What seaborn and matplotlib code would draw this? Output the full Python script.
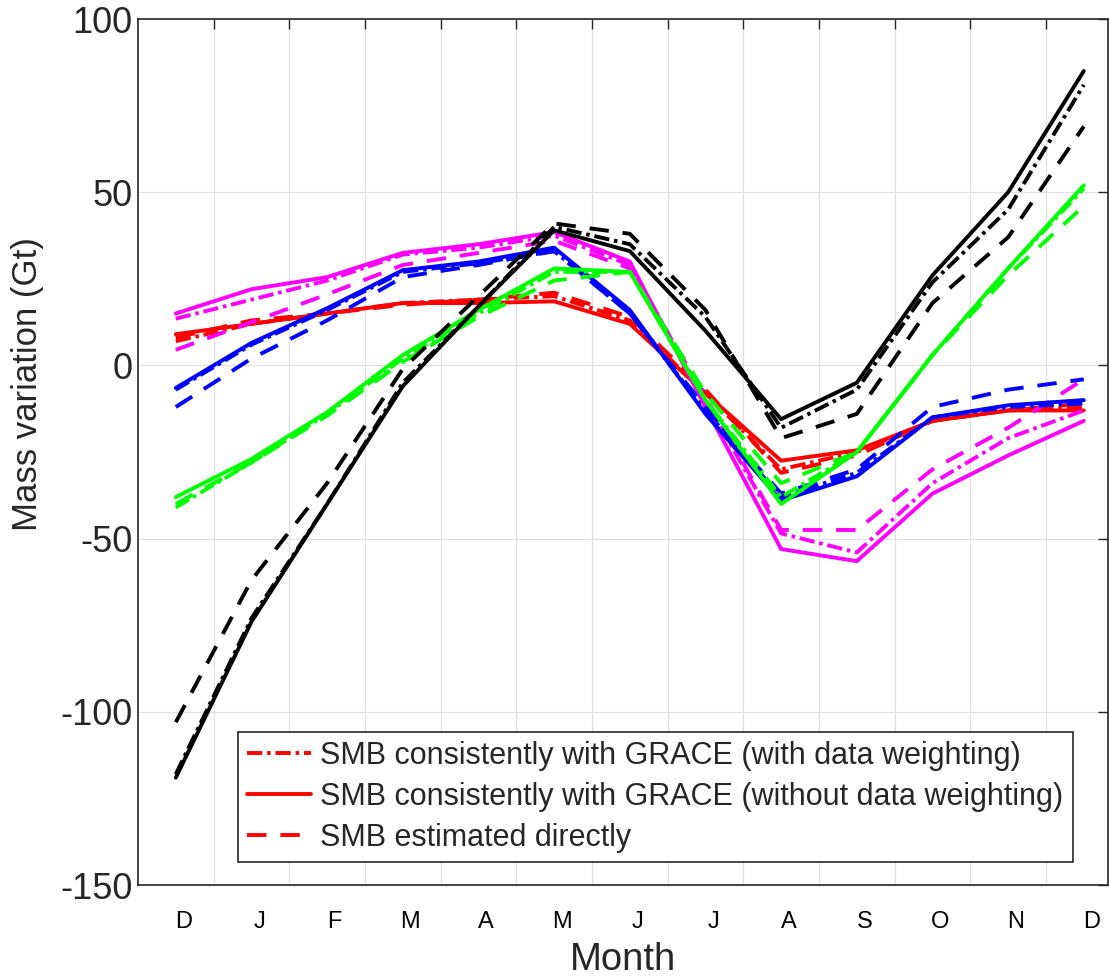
import numpy as np
import pandas as pd
import matplotlib
matplotlib.use("Agg")
import matplotlib.pyplot as plt
import seaborn as sns

# month labels (Dec of previous year .. Dec)
months = ["D", "J", "F", "M", "A", "M", "J", "J", "A", "S", "O", "N", "D"]
month_pos = np.arange(13) + 0.5

# red
red_dashdot = [7, 12, 15, 18, 19, 20, 13, -8, -30, -25, -16, -13, -12]
red_solid = [9, 12, 15, 18, 18, 18.5, 12, -8, -27.5, -24.5, -16, -13, -13]
red_dashed = [8, 13, 15, 17.5, 19, 21, 14, -7, -31, -26, -16, -13, -11]

# magenta
mag_dashdot = [13.5, 19, 24.5, 32, 34, 37.5, 29, -10, -48.5, -54, -34, -21, -13]
mag_solid = [15, 22, 25.5, 32.5, 35, 38.5, 30, -12, -53, -56.5, -37, -26, -16]
mag_dashed = [4.5, 12.5, 20.5, 29, 32.5, 36, 28, -9, -47.5, -47.5, -30, -18, -4]

# blue
blue_dashdot = [-7, 6, 16, 27, 29.5, 33, 15, -13, -38, -31, -15, -12, -11]
blue_solid = [-6.5, 6.5, 16.5, 27.5, 30, 34, 16, -14, -39, -32, -15, -11.5, -10]
blue_dashed = [-12, 2, 13, 25.5, 29, 33, 15, -12, -37, -30, -12, -7, -4]

# green
green_dashdot = [-41, -28, -14, 2, 15, 27, 27, -10, -38, -25, 3, 28, 51]
green_solid = [-38, -27, -13.5, 3, 16, 28, 27, -10, -40, -25, 3, 28, 52]
green_dashed = [-40, -28, -14.5, 1, 14, 24.5, 27, -8, -34, -25, 3, 26, 46]

# black
black_dashdot = [-118, -73, -40, -5, 17, 40, 35, 14, -18, -7, 24, 45, 81]
black_solid = [-119, -74, -40, -6, 17, 39, 33, 10, -15.5, -5, 26, 50, 85]
black_dashed = [-103, -62, -34, -1, 20, 41, 38, 16, -21, -14, 18, 37, 69]

legend_labels = ["SMB consistently with GRACE (with data weighting)",
                 "SMB consistently with GRACE (without data weighting)",
                 "SMB estimated directly"]

plt.rcParams['lines.scale_dashes'] = False
sns.set_style("white")
plt.rcParams['font.family'] = ['Liberation Sans', 'DejaVu Sans']

dashdot = (0, (11, 3.5, 2.5, 3.5))
dashed = (0, (14, 10))

series = [
    ("red", [red_dashdot, red_solid, red_dashed]),
    ("magenta", [mag_dashdot, mag_solid, mag_dashed]),
    ("blue", [blue_dashdot, blue_solid, blue_dashed]),
    ("#00ff00", [green_dashdot, green_solid, green_dashed]),
    ("black", [black_dashdot, black_solid, black_dashed]),
]
styles = [dashdot, "-", dashed]

fig = plt.figure(figsize=(11.09, 9.76), dpi=100)
ax = fig.add_axes([0.1244, 0.0932, 0.8747, 0.8873])

for color, vals in series:
    for k, v in enumerate(vals):
        lab = legend_labels[k] if color == "red" else None
        sns.lineplot(x=month_pos, y=v, ax=ax, color=color, linestyle=styles[k],
                     linewidth=2.8, label=lab, legend=False)

ax.set_xlim(0, 12.82)
ax.set_ylim(-150, 100)
ax.set_xticks(np.arange(1, 13))
ax.set_xticklabels([])
ax.set_yticks([-150, -100, -50, 0, 50, 100])
ax.set_yticklabels(["-150", "-100", "-50", "0", "50", "100"])
ax.grid(True, color="#e0e0e0", linewidth=0.9)
ax.tick_params(direction="in", length=7, width=1, color="#262626",
               top=True, right=True, labelsize=26, labelcolor="#262626", pad=4)
for s in ax.spines.values():
    s.set_visible(True)
    s.set_color("#262626")
    s.set_linewidth(1.2)

trans = ax.get_xaxis_transform()
for p, m in zip(month_pos, months):
    ax.text(p + 0.1, -0.043, m, transform=trans, ha="center", va="center",
            fontsize=17, color="black")

ax.set_xlabel("Month", fontsize=27.5, color="#262626")
ax.xaxis.set_label_coords(0.5, -0.066)
ax.set_ylabel("Mass variation (Gt)", fontsize=25, color="#262626")
ax.yaxis.set_label_coords(-0.097, 0.578)

handles, labels = ax.get_legend_handles_labels()
leg = ax.legend(handles, labels, loc="lower left", bbox_to_anchor=(0.103, 0.0266),
                fontsize=22, frameon=True, fancybox=False, framealpha=1,
                edgecolor="#262626", handlelength=2.1, handletextpad=0.3,
                borderpad=0.3, labelspacing=0.36, borderaxespad=0)
leg.get_frame().set_linewidth(1.2)

fig.savefig("out.png", dpi=100)
